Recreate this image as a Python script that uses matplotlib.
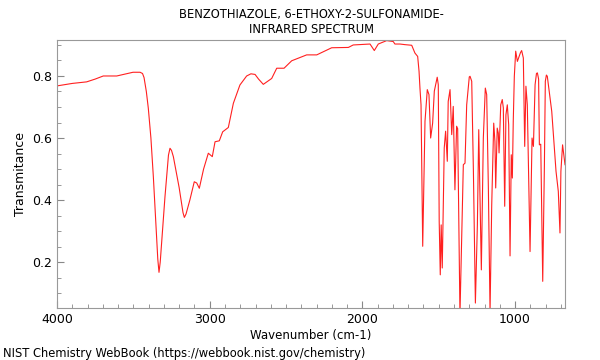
#%% -- imports --
import matplotlib
matplotlib.use('Agg')
import matplotlib.pyplot as plt
from matplotlib.ticker import MultipleLocator


#%% -- data --
wavenumber = [4000, 3900, 3806, 3750, 3697, 3609, 3502, 3456, 3440, 3430, 3415,
              3402, 3385, 3369, 3350, 3340, 3332, 3324, 3312, 3293, 3270, 3260, 3250, 3238, 3200,
              3175, 3166, 3155, 3130, 3101, 3085, 3068, 3040, 3009, 2983, 2965, 2937, 2915,
              2878, 2845, 2802, 2758, 2730, 2703, 2680, 2649, 2594, 2561, 2513, 2463,
              2365, 2299, 2256, 2201, 2092, 2060, 1950, 1922, 1896, 1841,
              1798, 1787, 1754, 1721, 1677, 1656, 1638, 1629, 1623, 1616,
              1605, 1590, 1575, 1564, 1553, 1540, 1529, 1510, 1503, 1497,
              1490, 1484, 1477, 1464, 1455, 1444, 1438, 1426, 1415, 1405,
              1394, 1383, 1376, 1361, 1339, 1328, 1317, 1300, 1295, 1284, 1273,
              1260, 1247, 1238, 1230, 1221, 1208, 1195, 1186, 1175, 1164,
              1153, 1140, 1132, 1127, 1117, 1110, 1105, 1094, 1084, 1077,
              1068, 1060, 1051, 1042, 1033, 1025, 1018, 1012, 1005, 996,
              985, 965, 957, 946, 937, 929, 920, 902, 889, 880, 869,
              860, 854, 846, 841, 832, 819, 808, 802, 795, 789, 760, 732, 717,
              706, 700, 689, 673]
transmittance = [0.768, 0.776, 0.781, 0.790, 0.800, 0.800, 0.812, 0.812, 0.808, 0.795, 0.750,
                 0.696, 0.600, 0.475, 0.300, 0.210, 0.167, 0.200, 0.280, 0.410, 0.545, 0.567, 0.560, 0.540, 0.440,
                 0.360, 0.344, 0.355, 0.400, 0.459, 0.455, 0.438, 0.500, 0.551, 0.540, 0.588, 0.591, 0.620,
                 0.634, 0.712, 0.771, 0.800, 0.807, 0.805, 0.790, 0.773, 0.792, 0.825, 0.825, 0.849,
                 0.868, 0.868, 0.878, 0.891, 0.892, 0.900, 0.903, 0.882, 0.903, 0.914,
                 0.911, 0.903, 0.903, 0.901, 0.899, 0.874, 0.863, 0.815, 0.761, 0.707,
                 0.251, 0.654, 0.756, 0.740, 0.600, 0.648, 0.751, 0.796, 0.772, 0.331,
                 0.159, 0.320, 0.181, 0.568, 0.622, 0.525, 0.718, 0.756, 0.611, 0.702,
                 0.433, 0.638, 0.630, 0.030, 0.514, 0.519, 0.707, 0.797, 0.799, 0.783, 0.493,
                 0.068, 0.320, 0.627, 0.406, 0.175, 0.600, 0.761, 0.740, 0.439, 0.040,
                 0.385, 0.648, 0.589, 0.439, 0.632, 0.616, 0.552, 0.707, 0.724, 0.697,
                 0.380, 0.675, 0.707, 0.643, 0.220, 0.546, 0.471, 0.654, 0.799, 0.880,
                 0.847, 0.875, 0.882, 0.858, 0.573, 0.767, 0.707, 0.234, 0.600, 0.573, 0.772,
                 0.808, 0.810, 0.790, 0.578, 0.580, 0.138, 0.514, 0.783, 0.803, 0.799, 0.686, 0.493, 0.428,
                 0.294, 0.493, 0.578, 0.514]

title = 'BENZOTHIAZOLE, 6-ETHOXY-2-SULFONAMIDE-\nINFRARED SPECTRUM'
footer = 'NIST Chemistry WebBook (https://webbook.nist.gov/chemistry)'


#%% -- plot --
fig = plt.figure(figsize=(6, 3.6), dpi=100)
ax = fig.add_axes([0.095, 0.1444, 0.8467, 0.7445])
ax.plot(wavenumber, transmittance, color='#ff2020', linewidth=0.8)

ax.set_xlim(4000, 673)
ax.set_ylim(0.052, 0.916)
ax.xaxis.set_major_locator(MultipleLocator(1000))
ax.xaxis.set_minor_locator(MultipleLocator(100))
ax.yaxis.set_major_locator(MultipleLocator(0.2))
ax.yaxis.set_minor_locator(MultipleLocator(0.05))
ax.tick_params(which='both', direction='in', color='#888888', labelsize=9)
ax.tick_params(which='major', length=5)
ax.tick_params(which='minor', length=3)
for sp in ax.spines.values():
    sp.set_color('#999999')

ax.set_xlabel('Wavenumber (cm-1)', fontsize=8.5, labelpad=2)
ax.set_ylabel('Transmitance', fontsize=9)
ax.set_title(title, fontsize=8.3, pad=5)
fig.text(0.005, 0.008, footer, fontsize=8.3)

plt.savefig('out.png', dpi=100)
